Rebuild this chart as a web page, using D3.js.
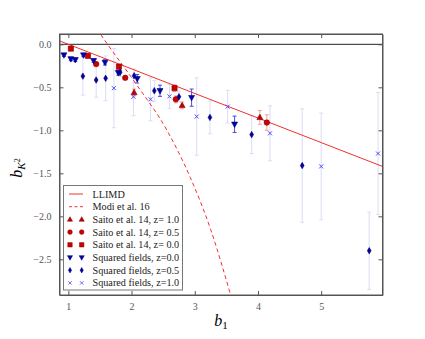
<!DOCTYPE html>
<html>
<head>
<meta charset="utf-8">
<script src="https://cdn.jsdelivr.net/npm/d3@7"></script>
<style>
  body { margin: 0; background: #fff; }
  text { font-family: "Liberation Serif", "DejaVu Serif", serif; }
</style>
</head>
<body>
<script>
// LLIMD line, read at the two plot edges
var llimdB1 = [0.86, 5.97];
var llimdBK = [0.04, -1.42];

// Modi et al. 16
var modiB1 = [1.45, 1.62, 2.08, 2.56, 2.93, 3.25, 3.60];
var modiBK = [0.18, 0.0, -0.47, -1.0, -1.55, -2.15, -3.0];

// Saito et al. 14
var saito10B1 = [2.04, 2.80, 4.03];
var saito10BK = [-0.56, -0.71, -0.85];
var saito10Err = [0.04, 0.04, 0.08];
var saito05B1 = [1.44, 1.90, 2.70, 4.14];
var saito05BK = [-0.23, -0.39, -0.64, -0.91];
var saito05Err = [0.02, 0.02, 0.04, 0.09];
var saito00B1 = [1.04, 1.31, 1.80, 2.68];
var saito00BK = [-0.05, -0.135, -0.26, -0.51];
var saito00Err = [0.01, 0.01, 0.02, 0.04];

// squared fields
var sq00B1 = [0.93, 1.04, 1.11, 1.24, 1.40, 1.58, 1.79, 2.09, 2.45, 2.95, 3.63];
var sq00BK = [-0.125, -0.17, -0.18, -0.125, -0.19, -0.21, -0.33, -0.40, -0.54, -0.62, -0.93];
var sq00Err = [0.015, 0.02, 0.02, 0.015, 0.02, 0.03, 0.03, 0.05, 0.065, 0.1, 0.095];
var sq05B1 = [1.23, 1.44, 1.59, 1.82, 2.04, 2.36, 2.75, 3.24, 3.90, 4.70, 5.76];
var sq05BK = [-0.37, -0.415, -0.395, -0.325, -0.365, -0.54, -0.61, -0.85, -1.05, -1.41, -2.40];
var sq05Err = [0.22, 0.2, 0.26, 0.05, 0.08, 0.12, 0.06, 0.19, 0.22, 0.66, 0.45];
var sq10B1 = [1.72, 2.03, 2.30, 2.60, 3.03, 3.52, 4.19, 5.00, 5.90];
var sq10BK = [-0.51, -0.61, -0.64, -0.605, -0.84, -0.725, -1.035, -1.42, -1.27];
var sq10Err = [0.46, 0.22, 0.25, 0.14, 0.45, 0.19, 0.32, 0.62, 0.71];

var xTicks = [1, 2, 3, 4, 5];
var yTicks = [0.0, -0.5, -1.0, -1.5, -2.0, -2.5];

var w = 425;
var h = 339;
var margins = {left: 59.5, right: 42.5, top: 34, bottom: 44};

var svg = d3.select("body")
            .append("svg")
            .attr("width", w)
            .attr("height", h);

var xScale = d3.scaleLinear()
               .domain([0.86, 5.97])
               .range([margins.left, w - margins.right]);
var yScale = d3.scaleLinear()
               .domain([-2.915, 0.12])
               .range([h - margins.bottom, margins.top]);

var red = "#f03030";
var series = [
  {name: "Saito et al. 14, z= 1.0", b1: saito10B1, bk: saito10BK, err: saito10Err,
   shape: "tri", fill: "#bb0000", stroke: "#880000", errColor: "#f4a0a0"},
  {name: "Saito et al. 14, z= 0.5", b1: saito05B1, bk: saito05BK, err: saito05Err,
   shape: "circle", fill: "#cc0000", stroke: "#880000", errColor: "#f4a0a0"},
  {name: "Saito et al. 14, z= 0.0", b1: saito00B1, bk: saito00BK, err: saito00Err,
   shape: "square", fill: "#cc0000", stroke: "#880000", errColor: "#f4a0a0"},
  {name: "Squared fields, z=0.0", b1: sq00B1, bk: sq00BK, err: sq00Err,
   shape: "down", fill: "#0000bb", stroke: "#000066", errColor: "#4a4ad8"},
  {name: "Squared fields, z=0.5", b1: sq05B1, bk: sq05BK, err: sq05Err,
   shape: "diamond", fill: "#0000aa", stroke: "#000066", errColor: "#dcdcf6"},
  {name: "Squared fields, z=1.0", b1: sq10B1, bk: sq10BK, err: sq10Err,
   shape: "x", fill: "none", stroke: "#4d4dff", errColor: "#dcdcf6"}
];

function markerPath(shape) {
  /* small marker shapes centred on 0,0 */
  if (shape === "tri") return "M0,-3.2L3,2.2L-3,2.2Z";
  if (shape === "down") return "M0,3.2L3,-2.2L-3,-2.2Z";
  if (shape === "square") return "M-2.6,-2.6H2.6V2.6H-2.6Z";
  if (shape === "diamond") return "M0,-3.2L1.9,0L0,3.2L-1.9,0Z";
  if (shape === "x") return "M-2,-2L2,2M-2,2L2,-2";
  return d3.symbol().type(d3.symbolCircle).size(24)();
}

svg.append("clipPath")
   .attr("id", "plotclip")
   .append("rect")
   .attr("x", margins.left)
   .attr("y", margins.top)
   .attr("width", w - margins.left - margins.right)
   .attr("height", h - margins.top - margins.bottom);

var plot = svg.append("g").attr("clip-path", "url(#plotclip)");

// zero line
plot.append("line")
    .attr("x1", margins.left).attr("x2", w - margins.right)
    .attr("y1", yScale(0)).attr("y2", yScale(0))
    .attr("stroke", "#222").attr("stroke-width", 1);

// error bars, light ones first
series.slice().reverse().forEach(function(s) {
  var g = plot.append("g");
  s.b1.forEach(function(b, i) {
    var x = xScale(b), y0 = yScale(s.bk[i] + s.err[i]), y1 = yScale(s.bk[i] - s.err[i]);
    g.append("line").attr("x1", x).attr("x2", x).attr("y1", y0).attr("y2", y1)
     .attr("stroke", s.errColor).attr("stroke-width", 1);
    [y0, y1].forEach(function(yy) {
      g.append("line").attr("x1", x - 2).attr("x2", x + 2).attr("y1", yy).attr("y2", yy)
       .attr("stroke", s.errColor).attr("stroke-width", 1);
    });
  });
});

// theory lines
var line = d3.line()
             .x(function(d) { return xScale(d[0]); })
             .y(function(d) { return yScale(d[1]); });

plot.append("path")
    .attr("d", line(d3.zip(llimdB1, llimdBK)))
    .attr("fill", "none").attr("stroke", red).attr("stroke-width", 1);

plot.append("path")
    .attr("d", line.curve(d3.curveMonotoneX)(d3.zip(modiB1, modiBK)))
    .attr("fill", "none").attr("stroke", red).attr("stroke-width", 1)
    .attr("stroke-dasharray", "4,3");

// markers
series.forEach(function(s) {
  plot.append("g")
      .selectAll("path")
      .data(d3.zip(s.b1, s.bk))
      .enter()
      .append("path")
      .attr("transform", function(d) {
        return "translate(" + xScale(d[0]) + "," + yScale(d[1]) + ")";
      })
      .attr("d", markerPath(s.shape))
      .attr("fill", s.fill)
      .attr("stroke", s.stroke)
      .attr("stroke-width", s.shape === "x" ? 1 : 0.6);
});

// axes with inward ticks on all four sides
var axisColor = "#555";
svg.append("g")
   .attr("transform", "translate(0," + (h - margins.bottom) + ")")
   .call(d3.axisBottom(xScale).tickValues(xTicks).tickSizeInner(-4).tickSizeOuter(0)
         .tickPadding(8).tickFormat(d3.format("d")));
svg.append("g")
   .attr("transform", "translate(0," + margins.top + ")")
   .call(d3.axisTop(xScale).tickValues(xTicks).tickSizeInner(-4).tickSizeOuter(0)
         .tickFormat(""));
svg.append("g")
   .attr("transform", "translate(" + margins.left + ",0)")
   .call(d3.axisLeft(yScale).tickValues(yTicks).tickSizeInner(-4).tickSizeOuter(0)
         .tickPadding(8).tickFormat(function(d) { return d3.format(".1f")(d).replace("-", "\u2212"); }));
svg.append("g")
   .attr("transform", "translate(" + (w - margins.right) + ",0)")
   .call(d3.axisRight(yScale).tickValues(yTicks).tickSizeInner(-4).tickSizeOuter(0)
         .tickFormat(""));

svg.selectAll(".domain").attr("stroke", axisColor);
svg.selectAll(".tick line").attr("stroke", axisColor);
svg.selectAll(".tick text")
   .attr("fill", "#555")
   .style("font-size", "10px")
   .style("font-family", "Liberation Serif, serif");

// frame
svg.append("rect")
   .attr("x", margins.left).attr("y", margins.top)
   .attr("width", w - margins.left - margins.right)
   .attr("height", h - margins.top - margins.bottom)
   .attr("fill", "none").attr("stroke", axisColor).attr("stroke-width", 1);

// axis labels
svg.append("text")
   .attr("x", (margins.left + w - margins.right) / 2)
   .attr("y", 326)
   .attr("text-anchor", "middle")
   .style("font-size", "16px")
   .style("font-style", "italic")
   .html("b<tspan dy='3' font-size='11px' font-style='normal'>1</tspan>");

svg.append("text")
   .attr("transform", "translate(22,168) rotate(-90)")
   .attr("text-anchor", "middle")
   .style("font-size", "16px")
   .style("font-style", "italic")
   .html("b<tspan dy='3' font-size='11px'>K</tspan><tspan dy='-5' font-size='8px' font-style='normal'>2</tspan>");

// legend
var legend = svg.append("g").attr("class", "legend");
legend.append("rect")
      .attr("x", 63.5).attr("y", 185.5)
      .attr("width", 119).attr("height", 104.5)
      .attr("fill", "#fff").attr("stroke", "#777").attr("stroke-width", 1);

var rowY = function(i) { return 194 + i * 12.7; };
var entries = [{name: "LLIMD", line: ""}, {name: "Modi et al. 16", line: "3,2.5"}];

entries.forEach(function(e, i) {
  legend.append("line")
        .attr("x1", 69).attr("x2", 83).attr("y1", rowY(i)).attr("y2", rowY(i))
        .attr("stroke", red).attr("stroke-width", 1)
        .attr("stroke-dasharray", e.line);
  legend.append("text")
        .attr("x", 92.5).attr("y", rowY(i) + 3.5)
        .style("font-size", "10.2px").attr("fill", "#222")
        .text(e.name);
});

series.forEach(function(s, j) {
  var i = j + 2;
  [70, 81.7].forEach(function(mx) {
    legend.append("path")
          .attr("transform", "translate(" + mx + "," + rowY(i) + ") scale(0.85)")
          .attr("d", markerPath(s.shape))
          .attr("fill", s.fill)
          .attr("stroke", s.stroke)
          .attr("stroke-width", s.shape === "x" ? 1 : 0.6);
  });
  legend.append("text")
        .attr("x", 92.5).attr("y", rowY(i) + 3.5)
        .style("font-size", "10.2px").attr("fill", "#222")
        .text(s.name);
});
</script>
</body>
</html>
